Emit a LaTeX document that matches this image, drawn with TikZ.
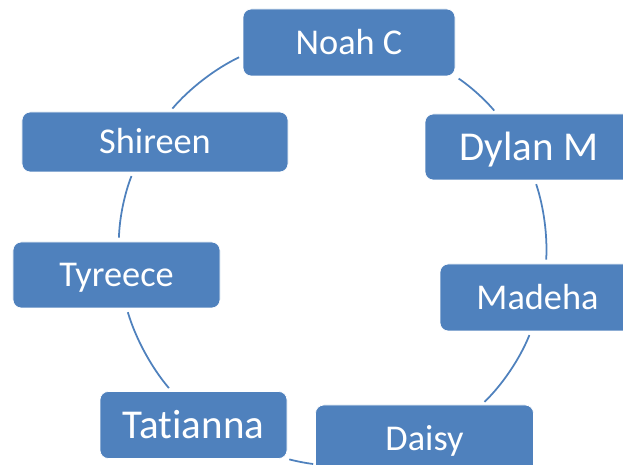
\documentclass[tikz,border=0pt]{standalone}
\usepackage{fontspec}
\setmainfont{Carlito}[Ligatures=NoCommon]
\definecolor{boxblue}{RGB}{79,129,189}

\tikzset{
  person/.style={draw=white, line width=0.6pt, fill=boxblue, rounded corners=0.25cm,
    text=white, font=\fontsize{31}{36}\selectfont, text height=19.7pt, text depth=0pt, inner sep=0pt},
  bigperson/.style={person, font=\fontsize{35}{42}\selectfont, text height=22.2pt},
  link/.style={draw=boxblue, line width=1.5pt, shorten >=0.12cm, shorten <=0.12cm, looseness=0.85}
}

\begin{document}
\begin{tikzpicture}
  \useasboundingbox (0,0) rectangle (18.69,-13.95);
  \clip (0,0) rectangle (18.69,-13.95);

  % People round the cycle
  \node[person, minimum width=6.36cm, minimum height=2.01cm] (noah) at (10.47,-1.275) {Noah C};
  \node[bigperson, minimum width=6.24cm, minimum height=1.98cm] (dylan) at (15.87,-4.41) {Dylan M};
  \node[person, minimum width=5.85cm, minimum height=2.01cm] (madeha) at (16.125,-8.925) {Madeha};
  \node[person, minimum width=6.54cm, minimum height=2.04cm] (daisy) at (12.735,-13.17) {Daisy};
  \node[bigperson, minimum width=5.61cm, minimum height=2.01cm] (tatianna) at (5.805,-12.75) {Tatianna};
  \node[person, minimum width=6.21cm, minimum height=1.98cm] (tyreece) at (3.495,-8.25) {Tyreece};
  \node[person, minimum width=7.98cm, minimum height=1.8cm] (shireen) at (4.65,-4.26) {Shireen};

  % Arcs between neighbours
  \draw[link] (noah.south east) to[bend left=8] (dylan.134);
  \draw[link] (dylan.-80) to[bend left=11] (madeha.76);
  \draw[link] (madeha.-101) to[bend left=12] (daisy.31);
  \draw[link, shorten >=0.06cm, shorten <=0.06cm] (daisy.193) to[bend left=4] (tatianna.south east);
  \draw[link] (tatianna.123) to[bend left=12] (tyreece.-73);
  \draw[link] (tyreece.86) to[bend left=10] (shireen.234);
  \draw[link] (shireen.64) to[bend left=12] (noah.187);
\end{tikzpicture}
\end{document}
